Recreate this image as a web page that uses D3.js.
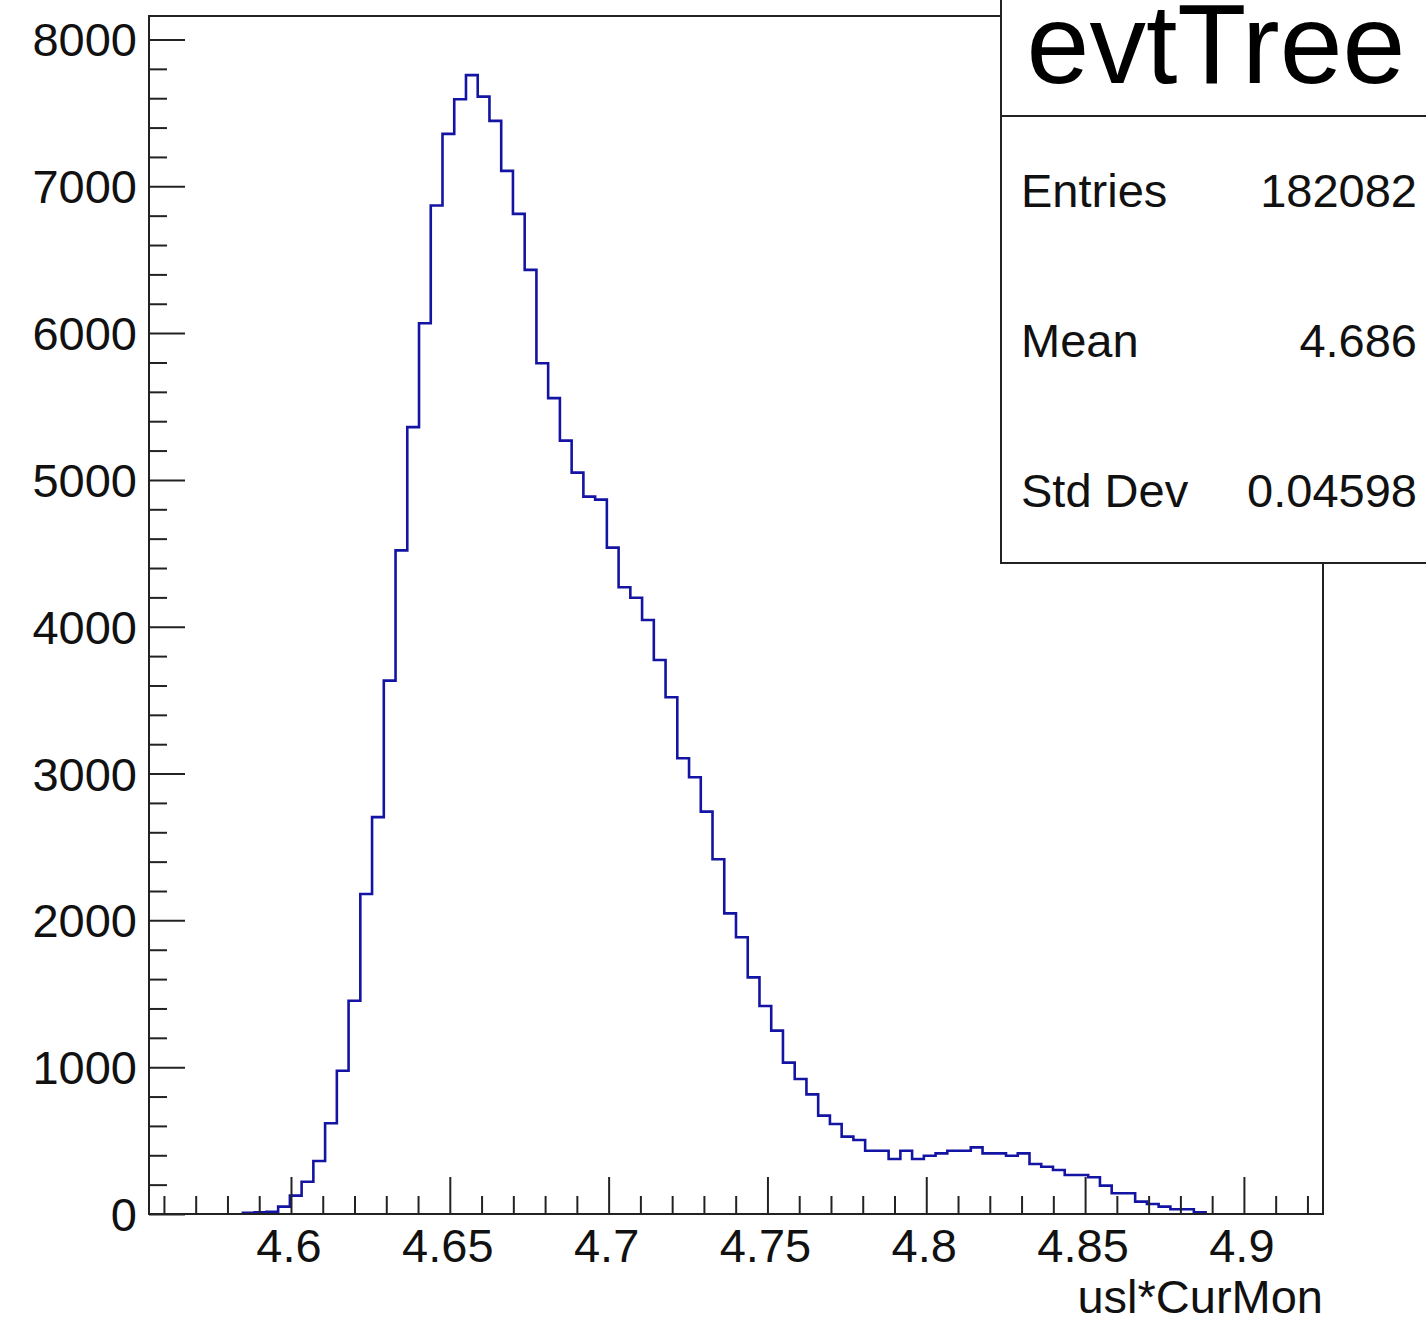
<!DOCTYPE html>
<html>
<head>
<meta charset="utf-8">
<script src="https://cdn.jsdelivr.net/npm/d3@7"></script>
<style>
  body { margin: 0; background: #fff; }
  svg { display: block; font-family: "Liberation Sans", Arial, Helvetica, sans-serif; }
</style>
</head>
<body>
<div id="chart"></div>
<script>
// Histogram of usl*CurMon, 100 bins
const xRange = [4.5553, 4.9249];
const nBins = 100;
const binCounts = [
  0, 0, 0, 0, 0, 0, 0, 0, 8, 12,
  15, 50, 125, 220, 361, 618, 976, 1453, 2180, 2703,
  3633, 4520, 5360, 6067, 6869, 7357, 7593, 7757, 7611, 7446,
  7105, 6812, 6431, 5795, 5557, 5268, 5050, 4886, 4866, 4539,
  4269, 4198, 4046, 3774, 3520, 3104, 2975, 2741, 2416, 2048,
  1885, 1612, 1417, 1249, 1031, 920, 815, 670, 613, 527,
  504, 431, 431, 375, 431, 375, 397, 413, 431, 431,
  454, 413, 413, 397, 413, 341, 322, 300, 266, 266,
  250, 193, 141, 141, 84, 68, 50, 32, 32, 12,
  0, 0, 0, 0, 0, 0, 0, 0, 0, 0
];
const yMax = 8160;
const xTicks = [4.6, 4.65, 4.7, 4.75, 4.8, 4.85, 4.9];
const yTicks = [0, 1000, 2000, 3000, 4000, 5000, 6000, 7000, 8000];
const statsTitle = "evtTree";
const statsRows = [
  ["Entries", "182082"],
  ["Mean", "4.686"],
  ["Std Dev", "0.04598"]
];
const xTitle = "usl*CurMon";

const width = 1426, height = 1323;
const frame = { left: 149, right: 1323, top: 16, bottom: 1214 };

const svg = d3.select('#chart').append('svg')
  .attr('width', width)
  .attr('height', height);

const x = d3.scaleLinear().domain(xRange).range([frame.left, frame.right]);
const y = d3.scaleLinear().domain([0, yMax]).range([frame.bottom, frame.top]);

const binWidth = (xRange[1] - xRange[0]) / nBins;

// Step outline, only over the filled bins (empty ones sit under the axis)
let first = binCounts.findIndex(c => c > 0);
let last = binCounts.length - 1;
while (last > 0 && binCounts[last] === 0) last--;

const pts = [[x(xRange[0] + first * binWidth), y(0)]];
for (let i = first; i <= last; i++) {
  const x0 = xRange[0] + i * binWidth;
  pts.push([x(x0), y(binCounts[i])]);
  pts.push([x(x0 + binWidth), y(binCounts[i])]);
}
pts.push([x(xRange[0] + (last + 1) * binWidth), y(0)]);

svg.append('path')
  .attr('d', d3.line()(pts))
  .attr('fill', 'none')
  .attr('stroke', '#1414a4')
  .attr('stroke-width', 2.6)
  .attr('stroke-linejoin', 'miter');

// Frame
svg.append('rect')
  .attr('x', frame.left)
  .attr('y', frame.top)
  .attr('width', frame.right - frame.left)
  .attr('height', frame.bottom - frame.top)
  .attr('fill', 'none')
  .attr('stroke', '#222')
  .attr('stroke-width', 2);

// Y axis ticks (inside, to the right)
const yAxis = d3.axisRight(y)
  .tickValues(d3.range(0, yMax, 200))
  .tickSize(0)
  .tickFormat('');
const yg = svg.append('g').attr('transform', `translate(${frame.left},0)`).call(yAxis);
yg.select('.domain').remove();
yg.selectAll('.tick line')
  .attr('x2', d => d % 1000 === 0 ? 36 : 18)
  .attr('stroke', '#222')
  .attr('stroke-width', 2);

yTicks.forEach(v => {
  svg.append('text')
    .attr('x', 137)
    .attr('y', y(v) + 17)
    .attr('text-anchor', 'end')
    .attr('font-size', 47)
    .attr('fill', '#111')
    .text(v);
});

// X axis ticks (inside, pointing up)
const minorX = d3.range(4.56, 4.925, 0.01).map(v => +v.toFixed(2));
const xAxis = d3.axisTop(x)
  .tickValues(minorX)
  .tickSize(0)
  .tickFormat('');
const xg = svg.append('g').attr('transform', `translate(0,${frame.bottom})`).call(xAxis);
xg.select('.domain').remove();
xg.selectAll('.tick line')
  .attr('y2', d => xTicks.some(t => Math.abs(t - d) < 1e-6) ? -37 : -18)
  .attr('stroke', '#222')
  .attr('stroke-width', 2);

xTicks.forEach(v => {
  svg.append('text')
    .attr('x', x(v) - 2)
    .attr('y', 1262)
    .attr('text-anchor', 'middle')
    .attr('font-size', 47)
    .attr('fill', '#111')
    .text(String(v));
});

svg.append('text')
  .attr('x', frame.right)
  .attr('y', 1313)
  .attr('text-anchor', 'end')
  .attr('font-size', 47)
  .attr('fill', '#111')
  .text(xTitle);

// Stats box
const box = { left: 1001, right: 1432, top: -20, divider: 116, bottom: 563 };
svg.append('rect')
  .attr('x', box.left)
  .attr('y', box.top)
  .attr('width', box.right - box.left)
  .attr('height', box.bottom - box.top)
  .attr('fill', '#fff')
  .attr('stroke', '#222')
  .attr('stroke-width', 2);
svg.append('line')
  .attr('x1', box.left).attr('x2', box.right)
  .attr('y1', box.divider).attr('y2', box.divider)
  .attr('stroke', '#222')
  .attr('stroke-width', 2);

svg.append('text')
  .attr('x', 1216)
  .attr('y', 83)
  .attr('text-anchor', 'middle')
  .attr('font-size', 113)
  .attr('fill', '#000')
  .text(statsTitle);

statsRows.forEach((row, i) => {
  const by = 207 + i * 150;
  svg.append('text')
    .attr('x', 1021)
    .attr('y', by)
    .attr('font-size', 47)
    .attr('fill', '#111')
    .text(row[0]);
  svg.append('text')
    .attr('x', 1417)
    .attr('y', by)
    .attr('text-anchor', 'end')
    .attr('font-size', 47)
    .attr('fill', '#111')
    .text(row[1]);
});
</script>
</body>
</html>
